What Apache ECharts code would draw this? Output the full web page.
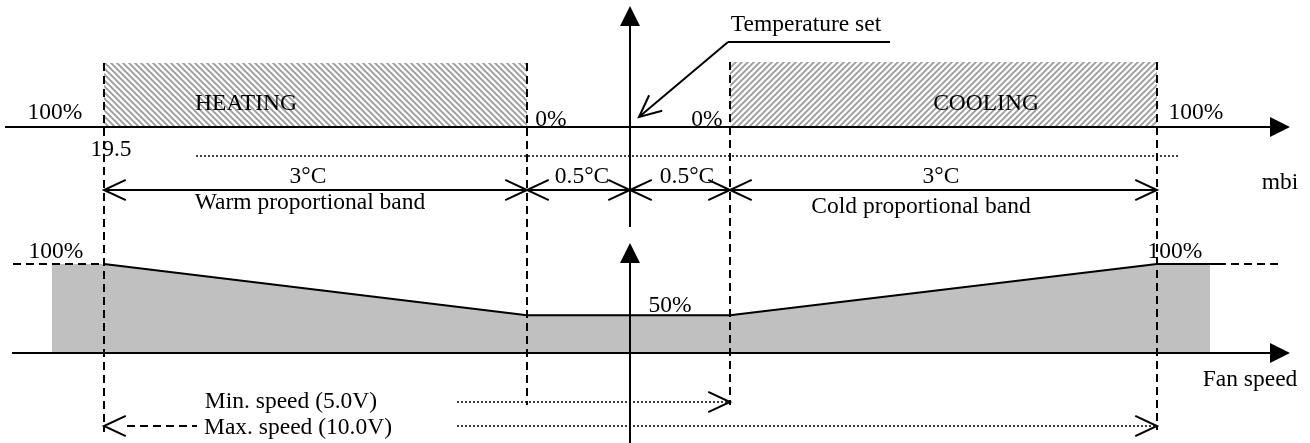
<!DOCTYPE html>
<html><head><meta charset="utf-8">
<script src="https://cdn.jsdelivr.net/npm/echarts@6/dist/echarts.min.js"></script>
<style>html,body{margin:0;padding:0;background:#fff}#c{width:1310px;height:443px}</style>
</head><body><div id="c"></div>
<script>
// ---- schematic data (diagram units: x = schematic temperature position, y = schematic row) ----
// Fan speed curve (x = schematic temperature position, y = fan speed %)
const fanFillX   = [52, 104, 527, 730, 1157, 1210];
const fanFillPct = [100, 100, 50, 50, 100, 100];
const fanCurveX  = [104, 527, 730, 1157, 1218];
const fanCurvePct= [100, 50, 50, 100, 100];
const fanDashL   = [[13, 100], [104, 100]];
const fanDashR   = [[1218, 100], [1282, 100]];

// Hatched output bands [x1, y1, x2, y2]
const heatingBand = [[104, 63, 527, 127]];
const coolingBand = [[730, 62, 1157, 127]];

// Solid lines [x1, y1, x2, y2]
const solidLines = [
  [5, 127, 1275, 127],     // mbi axis
  [12, 353, 1275, 353],    // fan speed axis
  [630, 20, 630, 227],     // upper vertical axis
  [630, 258, 630, 443],    // lower vertical axis
  [104, 190, 1157, 190],   // dimension line
  [728, 42, 890, 42],      // leader (horizontal)
  [728, 42, 639, 117]      // leader (diagonal)
];
// Dashed lines [x1, y1, x2, y2]
const dashedLines = [
  [104, 63, 104, 432],
  [527, 63, 527, 405],
  [730, 62, 730, 405],
  [1157, 62, 1157, 430],
  [127, 426, 197, 426]
];
// Dotted lines [x1, y1, x2, y2]
const dottedLines = [
  [196, 156, 1178, 156],
  [457, 402, 728, 402],
  [457, 426, 1155, 426]
];
// Filled arrow heads [tipX, tipY, shaftX, shaftY]
const filledArrows = [
  [1290, 127, 5, 127],
  [1290, 353, 12, 353],
  [630, 6, 630, 227],
  [630, 243, 630, 443]
];
// Open arrow heads [tipX, tipY, shaftX, shaftY]
const openArrows = [
  [104, 190, 1157, 190], [527, 190, 104, 190], [527, 190, 630, 190],
  [630, 190, 527, 190], [630, 190, 730, 190], [730, 190, 630, 190],
  [730, 190, 1157, 190], [1157, 190, 730, 190],
  [639, 117, 728, 42],
  [730, 402, 457, 402],
  [1157, 426, 457, 426],
  [104, 426, 197, 426]
];
// Text labels and their anchor points
const labels = ['100%', 'HEATING', '0%', '0%', 'COOLING', '100%', '19.5',
  '3°C', '0.5°C', '0.5°C', '3°C', 'Warm proportional band', 'Cold proportional band',
  'mbi', 'Temperature set', '100%', '50%', '100%', 'Fan speed',
  'Min. speed (5.0V)', 'Max. speed (10.0V)'];
const labelPos = [[55, 113], [246, 104], [551, 120], [707, 120], [986, 104], [1196, 113], [111, 150],
  [308, 177], [582, 177], [687, 177], [941, 177], [310, 203], [921, 207],
  [1280, 183], [806, 25], [56, 252], [670, 306], [1175, 252], [1250, 380],
  [291, 402], [298, 428]];

// ---- rendering ----
function hatch(backslash) {
  const c = document.createElement('canvas');
  c.width = 6; c.height = 6;
  const g = c.getContext('2d');
  g.strokeStyle = '#9c9c9c'; g.lineWidth = 1.9;
  g.beginPath();
  if (backslash) {
    g.moveTo(-1, -1); g.lineTo(7, 7);
    g.moveTo(-1, 5); g.lineTo(1, 7);
    g.moveTo(5, -1); g.lineTo(7, 1);
  } else {
    g.moveTo(-1, 7); g.lineTo(7, -1);
    g.moveTo(-1, 1); g.lineTo(1, -1);
    g.moveTo(5, 7); g.lineTo(7, 5);
  }
  g.stroke();
  return { image: c, repeat: 'repeat' };
}
const heatPattern = hatch(true), coolPattern = hatch(false);

function segRender(style) {
  return function (params, api) {
    const p1 = api.coord([api.value(0), api.value(1)]);
    const p2 = api.coord([api.value(2), api.value(3)]);
    return { type: 'line', shape: { x1: p1[0], y1: p1[1], x2: p2[0], y2: p2[1] },
      style: Object.assign({ stroke: '#000', fill: null }, style) };
  };
}
function rectRender(pattern) {
  return function (params, api) {
    const p1 = api.coord([api.value(0), api.value(1)]);
    const p2 = api.coord([api.value(2), api.value(3)]);
    return { type: 'rect', shape: { x: Math.min(p1[0], p2[0]), y: Math.min(p1[1], p2[1]),
      width: Math.abs(p2[0] - p1[0]), height: Math.abs(p2[1] - p1[1]) }, style: { fill: pattern } };
  };
}
function arrowRender(filled) {
  return function (params, api) {
    const t = api.coord([api.value(0), api.value(1)]);
    const s = api.coord([api.value(2), api.value(3)]);
    const dx = s[0] - t[0], dy = s[1] - t[1], L = Math.hypot(dx, dy);
    const ux = dx / L, uy = dy / L;
    if (filled) {
      const bx = t[0] + ux * 20, by = t[1] + uy * 20;
      return { type: 'polygon', shape: { points: [t, [bx - uy * 10, by + ux * 10], [bx + uy * 10, by - ux * 10]] },
        style: { fill: '#000' } };
    }
    const a = 25 * Math.PI / 180, len = 24;
    const rot = (ang) => [t[0] + len * (ux * Math.cos(ang) - uy * Math.sin(ang)),
                          t[1] + len * (ux * Math.sin(ang) + uy * Math.cos(ang))];
    return { type: 'polyline', shape: { points: [rot(a), t, rot(-a)] },
      style: { stroke: '#000', lineWidth: 2, fill: null } };
  };
}
function textRender(params, api) {
  const p = api.coord([api.value(0), api.value(1)]);
  return { type: 'text', x: p[0], y: p[1],
    style: { text: labels[params.dataIndex], fontFamily: 'Liberation Serif', fontSize: 23.5,
      fill: '#000', align: 'center', verticalAlign: 'middle' } };
}

const hidden = { show: false };
const chart = echarts.init(document.getElementById('c'), null, { renderer: 'canvas' });
chart.setOption({
  animation: false,
  backgroundColor: '#fff',
  grid: [
    { left: 0, right: 0, top: 0, bottom: 0 },
    { left: 0, right: 0, top: 264, height: 89 }
  ],
  xAxis: [
    { type: 'value', gridIndex: 0, min: 0, max: 1310, axisLine: hidden, axisTick: hidden, axisLabel: hidden, splitLine: hidden },
    { type: 'value', gridIndex: 1, min: 0, max: 1310, axisLine: hidden, axisTick: hidden, axisLabel: hidden, splitLine: hidden }
  ],
  yAxis: [
    { type: 'value', gridIndex: 0, min: 0, max: 443, inverse: true, axisLine: hidden, axisTick: hidden, axisLabel: hidden, splitLine: hidden },
    { type: 'value', gridIndex: 1, min: 13, max: 100, axisLine: hidden, axisTick: hidden, axisLabel: hidden, splitLine: hidden }
  ],
  series: [
    { type: 'custom', z: 1, xAxisIndex: 0, yAxisIndex: 0, renderItem: rectRender(heatPattern), data: heatingBand, silent: true },
    { type: 'custom', z: 1, xAxisIndex: 0, yAxisIndex: 0, renderItem: rectRender(coolPattern), data: coolingBand, silent: true },
    { type: 'line', z: 1, xAxisIndex: 1, yAxisIndex: 1, symbol: 'none', silent: true,
      data: fanFillX.map((x, i) => [x, fanFillPct[i]]),
      lineStyle: { width: 0 }, areaStyle: { color: '#c0c0c0', opacity: 1, origin: 'start' } },
    { type: 'line', z: 4, xAxisIndex: 1, yAxisIndex: 1, symbol: 'none', silent: true,
      data: fanCurveX.map((x, i) => [x, fanCurvePct[i]]), lineStyle: { color: '#000', width: 2 } },
    { type: 'line', z: 4, xAxisIndex: 1, yAxisIndex: 1, symbol: 'none', silent: true,
      data: fanDashL, lineStyle: { color: '#000', width: 2, type: [8, 5] } },
    { type: 'line', z: 4, xAxisIndex: 1, yAxisIndex: 1, symbol: 'none', silent: true,
      data: fanDashR, lineStyle: { color: '#000', width: 2, type: [8, 5] } },
    { type: 'custom', z: 5, xAxisIndex: 0, yAxisIndex: 0, renderItem: segRender({ lineWidth: 2 }), data: solidLines, silent: true },
    { type: 'custom', z: 5, xAxisIndex: 0, yAxisIndex: 0, renderItem: segRender({ lineWidth: 2, lineDash: [8, 5] }), data: dashedLines, silent: true },
    { type: 'custom', z: 5, xAxisIndex: 0, yAxisIndex: 0, renderItem: segRender({ lineWidth: 1.5, lineDash: [2, 2] }), data: dottedLines, silent: true },
    { type: 'custom', z: 5, xAxisIndex: 0, yAxisIndex: 0, renderItem: arrowRender(true), data: filledArrows, silent: true },
    { type: 'custom', z: 5, xAxisIndex: 0, yAxisIndex: 0, renderItem: arrowRender(false), data: openArrows, silent: true },
    { type: 'custom', z: 6, xAxisIndex: 0, yAxisIndex: 0, renderItem: textRender, data: labelPos, silent: true }
  ]
});
</script></body></html>
